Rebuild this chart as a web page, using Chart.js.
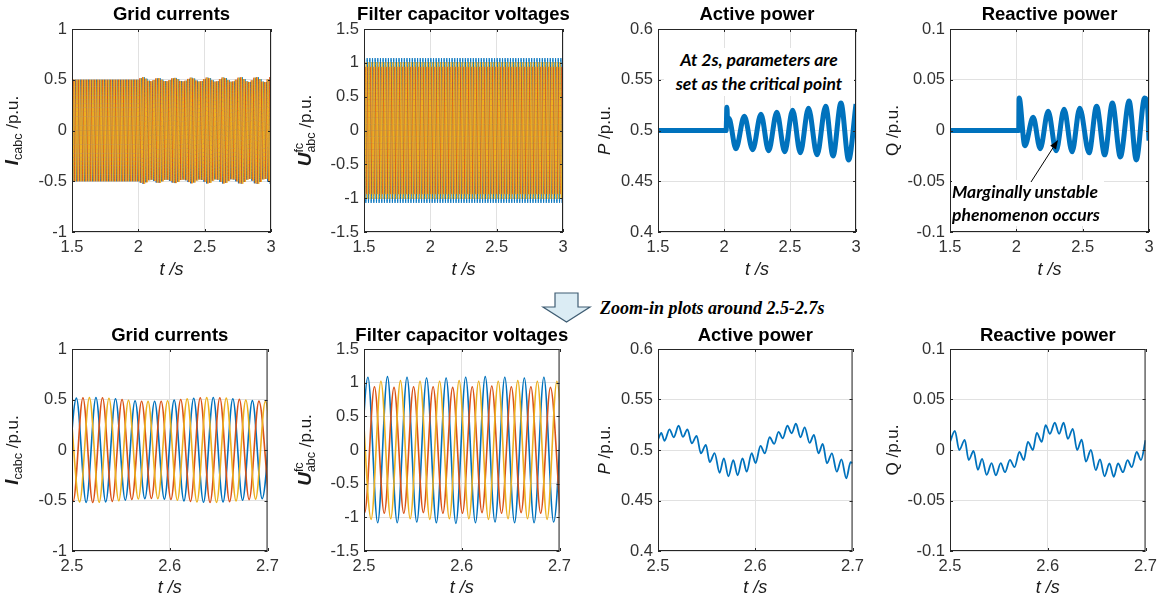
<!DOCTYPE html>
<html>
<head>
<meta charset="utf-8">
<script src="https://cdn.jsdelivr.net/npm/chart.js@4.4.1/dist/chart.umd.min.js"></script>
<style>
  html, body { margin:0; padding:0; background:#fff; }
  body { width:1164px; height:596px; overflow:hidden; position:relative; }
  canvas.pane { position:absolute; }
  .note { position:absolute; background:#fff; font-family:Lato, "Open Sans", sans-serif; font-weight:700; font-style:italic; color:#000; white-space:nowrap; z-index:5; }
  #noteP { left:664px; top:48px; width:190px; text-align:center; font-size:17.5px; line-height:24px; }
  #noteQ { left:952px; top:180px; padding-right:4px; font-size:17.5px; line-height:23px; }
  #zoomText { position:absolute; left:600px; top:297px; font-family:"Liberation Serif", "Times New Roman", serif; font-weight:700; font-style:italic; font-size:18px; line-height:22px; color:#000; z-index:5; white-space:nowrap; }
  #overlay { position:absolute; left:0; top:0; z-index:6; pointer-events:none; }
</style>
</head>
<body>
<div id="noteP" class="note">At 2s, parameters are<br>set as the critical point</div>
<div id="noteQ" class="note">Marginally unstable<br>phenomenon occurs</div>
<div id="zoomText">Zoom-in plots around 2.5-2.7s</div>
<svg id="overlay" width="1164" height="596" xmlns="http://www.w3.org/2000/svg">
  <polygon points="555,293 578,293 578,307 590,307 566.5,322 543,307 555,307" fill="#dbecf4" stroke="#3f5d73" stroke-width="1.2"/>
  <line x1="1031" y1="182" x2="1053.1" y2="147.6" stroke="#000" stroke-width="1"/>
  <polygon points="1058,140 1056.05,149.5 1050.2,145.7" fill="#000"/>
</svg>
<script>
// ---------------- DATA ----------------
const topTimeTicks  = [1.5, 2, 2.5, 3];
const zoomTimeTicks = [2.5, 2.6, 2.7];
const currentTicks  = [-1, -0.5, 0, 0.5, 1];
const voltageTicks  = [-1.5, -1, -0.5, 0, 0.5, 1, 1.5];
const pTicks        = [0.4, 0.45, 0.5, 0.55, 0.6];
const qTicks        = [-0.1, -0.05, 0, 0.05, 0.1];
const halfPeriod    = 0.01;   // 50 Hz fundamental, half period in s

// grid-current peak envelope, one reading per cycle (1.50, 1.52, ... 3.00 s)
const iTopEnvelope = [
  0.5,0.5,0.5,0.5,0.5,0.5,0.5,0.5,0.5,0.5,0.5,0.5,0.5,0.5,0.5,0.5,0.5,0.5,0.5,0.5,0.5,0.5,0.5,0.5,0.5,0.5,
  0.515,0.525,0.51,0.49,0.485,0.497,0.513,0.515,0.50,0.486,
  0.485,0.497,0.513,0.518,0.505,0.488,0.483,0.49,0.508,0.52,
  0.512,0.492,0.482,0.487,0.505,0.521,0.515,0.495,0.481,0.485,
  0.505,0.522,0.516,0.496,0.48,0.483,0.50,0.52,0.524,0.506,
  0.484,0.478,0.494,0.52,0.525,0.506,0.481,0.477,0.503,0.527
];
// first extremum time and sign of phases a (blue), b (red), c (yellow)
const iTopFirstT    = [1.4945, 1.4912, 1.4978];
const iTopFirstSign = [-1, 1, 1];
// filter capacitor voltage peaks in the top plot (a, b, c)
const uTopPeaks     = [1.07, 0.94, 1.01];
const uTopFirstT    = [1.494, 1.4907, 1.4973];
const uTopFirstSign = [-1, 1, 1];

// zoom-in grid currents: successive extrema, one every half period
const iZoomFirstT = [2.4945, 2.4912, 2.4978];
const iZoomA = [-0.505,0.514,-0.519,0.52,-0.514,0.507,-0.496,0.487,-0.481,0.482,-0.486,0.494,-0.504,0.513,-0.518,0.52,-0.515,0.507,-0.497,0.489,-0.482,0.48];
const iZoomB = [0.5,-0.51,0.517,-0.52,0.517,-0.509,0.5,-0.49,0.483,-0.48,0.482,-0.49,0.5,-0.509,0.517,-0.52,0.518,-0.511,0.501,-0.491,0.484,-0.48];
const iZoomC = [0.507,-0.514,0.519,-0.518,0.512,-0.503,0.493,-0.485,0.481,-0.481,0.487,-0.497,0.506,-0.515,0.519,-0.519,0.514,-0.504,0.494,-0.486,0.481,-0.48];

// zoom-in filter capacitor voltages: successive extrema
const uZoomFirstT = [2.494, 2.4907, 2.4973];
const uZoomA = [-1.07,1.08,-1.08,1.09,-1.08,1.08,-1.07,1.07,-1.08,1.07,-1.09,1.08,-1.08,1.09,-1.07,1.08,-1.08,1.07,-1.08,1.08,-1.07,1.08];
const uZoomB = [0.94,-0.93,0.94,-0.94,0.93,-0.94,0.94,-0.93,0.94,-0.94,0.93,-0.94,0.94,-0.93,0.95,-0.94,0.94,-0.93,0.94,-0.94,0.93,-0.94];
const uZoomC = [1.02,-1.03,1.02,-1.02,1.03,-1.02,1.02,-1.03,1.02,-1.02,1.03,-1.02,1.02,-1.03,1.02,-1.02,1.03,-1.02,1.02,-1.03,1.02,-1.02];

// active power, 1.5 - 3 s
const pTopT = [1.5, 2.016, 2.022, 2.028, 2.036, 2.045, 2.09, 2.154, 2.217, 2.28, 2.338, 2.40, 2.46, 2.52, 2.578, 2.64, 2.705, 2.77, 2.826, 2.886, 2.944, 3.0];
const pTopV = [0.5, 0.5, 0.523, 0.507, 0.512, 0.51, 0.482, 0.514, 0.481, 0.516, 0.48, 0.518, 0.479, 0.52, 0.478, 0.522, 0.476, 0.524, 0.475, 0.527, 0.471, 0.526];
// reactive power, 1.5 - 3 s
const qTopT = [1.5, 2.018, 2.021, 2.064, 2.127, 2.18, 2.24, 2.30, 2.36, 2.42, 2.478, 2.548, 2.605, 2.666, 2.724, 2.784, 2.85, 2.904, 2.967, 2.99, 3.0];
const qTopV = [0, 0, 0.032, -0.015, 0.013, -0.018, 0.019, -0.02, 0.021, -0.021, 0.022, -0.022, 0.024, -0.024, 0.027, -0.026, 0.029, -0.029, 0.032, 0.022, -0.01];

// active power, 2.5 - 2.7 s
const pZoomT = [2.5,2.5034,2.5067,2.5118,2.5162,2.5212,2.5256,2.5303,2.5347,2.5397,2.5441,2.5492,2.5532,2.5582,2.5633,2.5677,2.5724,2.5774,2.5818,2.5869,2.5912,2.5963,2.6003,2.6054,2.6098,2.6148,2.6195,2.6239,2.6283,2.633,2.6374,2.6418,2.6465,2.6508,2.6559,2.6603,2.665,2.6694,2.6737,2.6788,2.6838,2.6886,2.6936,2.698,2.7];
const pZoomV = [0.51,0.517,0.509,0.5205,0.5126,0.524,0.513,0.5205,0.5066,0.514,0.4967,0.505,0.488,0.497,0.4775,0.4917,0.474,0.49,0.475,0.4917,0.4785,0.497,0.487,0.504,0.4967,0.5126,0.506,0.518,0.5116,0.524,0.5166,0.526,0.5126,0.5225,0.507,0.515,0.4967,0.506,0.4868,0.4967,0.4785,0.4907,0.4719,0.488,0.487];
// reactive power, 2.5 - 2.7 s
const qZoomT = [2.5,2.505,2.5094,2.5151,2.5191,2.5241,2.5285,2.5328,2.5375,2.5425,2.5469,2.5519,2.5563,2.5613,2.566,2.571,2.5754,2.5797,2.5848,2.5888,2.5938,2.5978,2.6022,2.6072,2.6116,2.6162,2.6206,2.6256,2.63,2.6347,2.639,2.6441,2.6491,2.6534,2.6581,2.6631,2.6675,2.6719,2.6769,2.6816,2.6859,2.691,2.6953,2.7];
const qZoomV = [0.008,0.019,0,0.01,-0.01,-0.001,-0.0196,-0.0087,-0.0246,-0.013,-0.025,-0.013,-0.022,-0.0097,-0.017,-0.002,-0.01,0.008,0,0.017,0.008,0.0246,0.016,0.027,0.016,0.027,0.011,0.021,0,0.0103,-0.0116,0,-0.02,-0.0093,-0.026,-0.0133,-0.0266,-0.0133,-0.022,-0.01,-0.017,-0.002,-0.01,0.0097];

// ---------------- BUILDERS ----------------
const LS = '"Liberation Sans", Arial, Helvetica, sans-serif';
const BLUE = '#0072BD', RED = '#D95319', YELLOW = '#EDB120';

function pairSeries(ts, vs) { return ts.map((t, k) => ({ x: t, y: vs[k] })); }
function extremaSeries(t0, vs) { return vs.map((v, k) => ({ x: Math.round((t0 + k * halfPeriod) * 1e5) / 1e5, y: v })); }
function envelopeSeries(t0, firstSign, endT, ampAt) {
  const out = [];
  for (let k = 0; ; k++) {
    const t = Math.round((t0 + k * halfPeriod) * 1e5) / 1e5;
    const s = (k % 2 === 0) ? firstSign : -firstSign;
    out.push({ x: t, y: s * ampAt(t) });
    if (t > endT) break;
  }
  return out;
}
function iEnv(t) {
  const idx = Math.min(iTopEnvelope.length - 1, Math.max(0, Math.round((t - 1.5) / 0.02)));
  return iTopEnvelope[idx];
}

function lineDs(data, color, width, order) {
  return { data, borderColor: color, borderWidth: width, pointRadius: 0, fill: false,
           cubicInterpolationMode: 'monotone', order, clip: 0 };
}

const colors = [BLUE, RED, YELLOW];
const iTopDs = [0,1,2].map(p => lineDs(envelopeSeries(iTopFirstT[p], iTopFirstSign[p], 3.0, iEnv), colors[p], 1, 3 - p));
const uTopDs = [0,1,2].map(p => lineDs(envelopeSeries(uTopFirstT[p], uTopFirstSign[p], 3.0, () => uTopPeaks[p]), colors[p], 1, 3 - p));
const iZoomDs = [iZoomA, iZoomB, iZoomC].map((vs, p) => lineDs(extremaSeries(iZoomFirstT[p], vs), colors[p], 1.6, 3 - p));
const uZoomDs = [uZoomA, uZoomB, uZoomC].map((vs, p) => lineDs(extremaSeries(uZoomFirstT[p], vs), colors[p], 1.6, 3 - p));

// ---------------- LAYOUT ----------------
const rowsL = [
  { top: 0,   height: 290, plotTop: 29,  plotH: 203, titleGap: 14, xTitleGap: 38 },
  { top: 320, height: 276, plotTop: 349, plotH: 202, titleGap: 13, xTitleGap: 37 }
];
const colsL = [
  { plotLeft: 72,  plotW: 199, yGap: 54 },
  { plotLeft: 364, plotW: 199, yGap: 53 },
  { plotLeft: 658, plotW: 198, yGap: 48 },
  { plotLeft: 950, plotW: 199, yGap: 52 }
];
const Y_AXIS_W = 72, RIGHT_PAD = 14;

const yTitleI = [{ t: 'I', font: 'bold italic 19px ' + LS }, { t: 'cabc', font: '12.5px ' + LS, dy: 4 }, { t: ' /p.u.', font: '17px ' + LS }];
const yTitleU = [{ t: 'U', font: 'bold italic 19px ' + LS }, { sup: 'fc', sub: 'abc', font: '12.5px ' + LS, supShift: 8, subShift: 4 }, { t: ' /p.u.', font: '17px ' + LS }];
const yTitleP = [{ t: 'P', font: 'italic 17px ' + LS }, { t: ' /p.u.', font: '17px ' + LS }];
const yTitleQ = [{ t: 'Q', font: '17px ' + LS }, { t: ' /p.u.', font: '17px ' + LS }];

const panels = [
  { row: 0, col: 0, title: 'Grid currents', ds: iTopDs, xr: [1.5, 3], xt: topTimeTicks, yr: [-1, 1], yt: currentTicks, yTitle: yTitleI },
  { row: 0, col: 1, title: 'Filter capacitor voltages', ds: uTopDs, xr: [1.5, 3], xt: topTimeTicks, yr: [-1.5, 1.5], yt: voltageTicks, yTitle: yTitleU },
  { row: 0, col: 2, title: 'Active power', ds: [lineDs(pairSeries(pTopT, pTopV), BLUE, 5, 1)], xr: [1.5, 3], xt: topTimeTicks, yr: [0.4, 0.6], yt: pTicks, yTitle: yTitleP },
  { row: 0, col: 3, title: 'Reactive power', ds: [lineDs(pairSeries(qTopT, qTopV), BLUE, 5, 1)], xr: [1.5, 3], xt: topTimeTicks, yr: [-0.1, 0.1], yt: qTicks, yTitle: yTitleQ },
  { row: 1, col: 0, title: 'Grid currents', ds: iZoomDs, xr: [2.5, 2.7], xt: zoomTimeTicks, yr: [-1, 1], yt: currentTicks, yTitle: yTitleI },
  { row: 1, col: 1, title: 'Filter capacitor voltages', ds: uZoomDs, xr: [2.5, 2.7], xt: zoomTimeTicks, yr: [-1.5, 1.5], yt: voltageTicks, yTitle: yTitleU },
  { row: 1, col: 2, title: 'Active power', ds: [lineDs(pairSeries(pZoomT, pZoomV), BLUE, 1.8, 1)], xr: [2.5, 2.7], xt: zoomTimeTicks, yr: [0.4, 0.6], yt: pTicks, yTitle: yTitleP },
  { row: 1, col: 3, title: 'Reactive power', ds: [lineDs(pairSeries(qZoomT, qZoomV), BLUE, 1.8, 1)], xr: [2.5, 2.7], xt: zoomTimeTicks, yr: [-0.1, 0.1], yt: qTicks, yTitle: yTitleQ }
];

function drawYTitle(ctx, parts, cx, cy) {
  const widths = parts.map(p => {
    ctx.font = p.font;
    if (p.sup !== undefined) return Math.max(ctx.measureText(p.sup).width, ctx.measureText(p.sub).width);
    return ctx.measureText(p.t).width;
  });
  const total = widths.reduce((a, b) => a + b, 0);
  ctx.save();
  ctx.translate(cx, cy);
  ctx.rotate(-Math.PI / 2);
  ctx.textAlign = 'left';
  ctx.textBaseline = 'alphabetic';
  ctx.fillStyle = '#1a1a1a';
  let x = -total / 2;
  parts.forEach((p, i) => {
    ctx.font = p.font;
    if (p.sup !== undefined) {
      ctx.fillText(p.sup, x, -p.supShift);
      ctx.fillText(p.sub, x, p.subShift);
    } else {
      ctx.fillText(p.t, x, p.dy || 0);
    }
    x += widths[i];
  });
  ctx.restore();
}

const decorPlugin = {
  id: 'decor',
  afterDraw(chart, args, o) {
    const { ctx, chartArea: a } = chart;
    const xs = chart.scales.x, ys = chart.scales.y;
    ctx.save();
    // inward tick marks
    ctx.strokeStyle = '#262626';
    ctx.lineWidth = 1;
    ctx.beginPath();
    o.xt.forEach(v => {
      const px = Math.round(xs.getPixelForValue(v)) + 0.5;
      ctx.moveTo(px, a.bottom); ctx.lineTo(px, a.bottom - 3);
      ctx.moveTo(px, a.top); ctx.lineTo(px, a.top + 3);
    });
    o.yt.forEach(v => {
      const py = Math.round(ys.getPixelForValue(v)) + 0.5;
      ctx.moveTo(a.left, py); ctx.lineTo(a.left + 3, py);
      ctx.moveTo(a.right, py); ctx.lineTo(a.right - 3, py);
    });
    ctx.stroke();
    // box
    ctx.strokeRect(a.left + 0.5, a.top + 0.5, a.right - a.left - 1, a.bottom - a.top - 1);
    // title
    ctx.fillStyle = '#000';
    ctx.font = 'bold 18.5px ' + LS;
    ctx.textAlign = 'center';
    ctx.textBaseline = 'middle';
    ctx.fillText(o.title, (a.left + a.right) / 2, a.top - o.titleGap);
    // x title
    ctx.fillStyle = '#1a1a1a';
    ctx.font = 'italic 18px ' + LS;
    ctx.fillText('t /s', (a.left + a.right) / 2, a.bottom + o.xTitleGap);
    ctx.restore();
    drawYTitle(ctx, o.yTitle, a.left - o.yGap, (a.top + a.bottom) / 2);
  }
};

panels.forEach((pn, i) => {
  const r = rowsL[pn.row], c = colsL[pn.col];
  const cv = document.createElement('canvas');
  cv.className = 'pane';
  const w = Y_AXIS_W + c.plotW + RIGHT_PAD;
  cv.width = w; cv.height = r.height;
  cv.style.left = (c.plotLeft - Y_AXIS_W) + 'px';
  cv.style.top = r.top + 'px';
  cv.style.width = w + 'px'; cv.style.height = r.height + 'px';
  document.body.appendChild(cv);
  const padTop = r.plotTop - r.top;
  const xAxisH = r.height - padTop - r.plotH;
  const tickFont = { family: LS, size: 16.5 };
  new Chart(cv, {
    type: 'line',
    data: { datasets: pn.ds },
    options: {
      responsive: false, animation: false, events: [],
      layout: { padding: { top: padTop, right: RIGHT_PAD, left: 0, bottom: 0 } },
      plugins: {
        legend: { display: false }, tooltip: { enabled: false }, title: { display: false },
        decor: { title: pn.title, titleGap: r.titleGap, xTitleGap: r.xTitleGap, yGap: c.yGap, yTitle: pn.yTitle, xt: pn.xt, yt: pn.yt }
      },
      scales: {
        x: {
          type: 'linear', min: pn.xr[0], max: pn.xr[1],
          afterBuildTicks: s => { s.ticks = pn.xt.map(v => ({ value: v })); },
          afterFit: s => { s.height = xAxisH; },
          grid: { color: '#e1e1e1', lineWidth: 1, drawTicks: false },
          border: { display: false },
          ticks: { padding: 6, font: tickFont, color: '#333', maxRotation: 0, autoSkip: false, callback: v => String(v) }
        },
        y: {
          type: 'linear', min: pn.yr[0], max: pn.yr[1],
          afterBuildTicks: s => { s.ticks = pn.yt.map(v => ({ value: v })); },
          afterFit: s => { s.width = Y_AXIS_W; },
          grid: { color: '#e1e1e1', lineWidth: 1, drawTicks: false },
          border: { display: false },
          ticks: { padding: 5, font: tickFont, color: '#333', autoSkip: false, callback: v => String(v) }
        }
      }
    },
    plugins: [decorPlugin]
  });
});
</script>
</body>
</html>
